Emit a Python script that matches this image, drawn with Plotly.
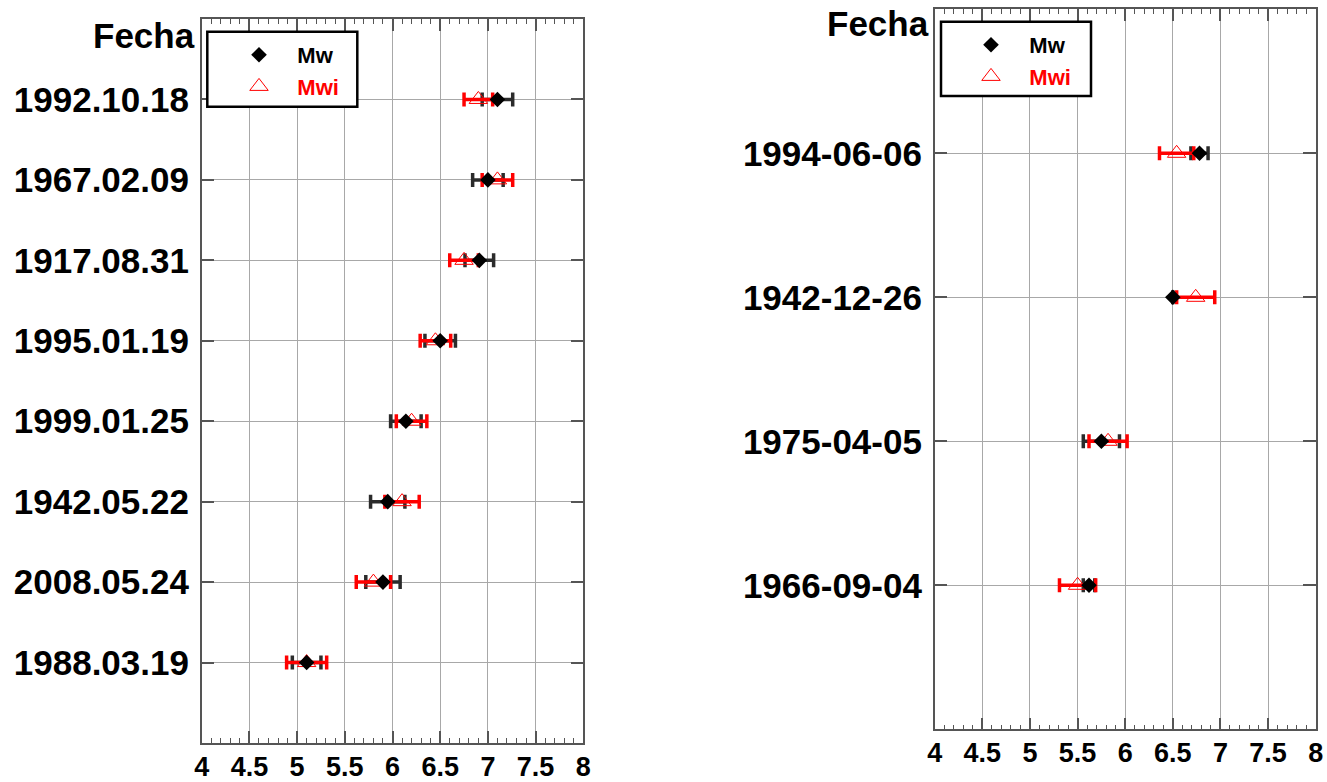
import plotly.graph_objects as go

# ---------------- data ----------------
dates_left = ["1992.10.18", "1967.02.09", "1917.08.31", "1995.01.19",
              "1999.01.25", "1942.05.22", "2008.05.24", "1988.03.19"]
mw_left = [7.10, 7.00, 6.91, 6.50, 6.14, 5.95, 5.90, 5.10]
mw_err_left = [0.16, 0.16, 0.15, 0.16, 0.16, 0.18, 0.18, 0.15]
mwi_left = [6.90, 7.10, 6.75, 6.45, 6.20, 6.10, 5.80, 5.10]
mwi_err_left = [0.15, 0.16, 0.15, 0.16, 0.16, 0.18, 0.18, 0.21]

dates_right = ["1994-06-06", "1942-12-26", "1975-04-05", "1966-09-04"]
mw_right = [6.78, 6.50, 5.75, 5.62]
mw_err_right = [0.09, 0.0, 0.19, 0.06]
mwi_right = [6.54, 6.74, 5.82, 5.50]
mwi_err_right = [0.18, 0.20, 0.20, 0.19]

x_ticks = [4, 4.5, 5, 5.5, 6, 6.5, 7, 7.5, 8]
x_ticktext = ["4", "4.5", "5", "5.5", "6", "6.5", "7", "7.5", "8"]

# ---------------- style ----------------
W, H = 1327, 782
FONT = "Liberation Sans, Arial, sans-serif"
BLACK_ERR = "#2b2b2b"
RED = "#ff0000"
AXIS_COL = "#555555"
GRID_COL = "#a8a8a8"


def px_x(p):
    return p / W


def px_y(p):
    return 1 - p / H


fig = go.Figure()

panels = [
    dict(xa="x", ya="y", dates=dates_left, mw=mw_left, mwe=mw_err_left,
         mwi=mwi_left, mwie=mwi_err_left, legend="legend"),
    dict(xa="x2", ya="y2", dates=dates_right, mw=mw_right, mwe=mw_err_right,
         mwi=mwi_right, mwie=mwi_err_right, legend="legend2"),
]

for p in panels:
    # Mw error bars
    fig.add_trace(go.Scatter(
        x=p["mw"], y=p["dates"], xaxis=p["xa"], yaxis=p["ya"], mode="markers",
        marker=dict(size=1, color="rgba(0,0,0,0)"),
        error_x=dict(type="data", array=p["mwe"], color=BLACK_ERR,
                     thickness=3.5, width=7),
        showlegend=False, hoverinfo="skip"))
    # Mwi error bars
    fig.add_trace(go.Scatter(
        x=p["mwi"], y=p["dates"], xaxis=p["xa"], yaxis=p["ya"], mode="markers",
        marker=dict(size=1, color="rgba(0,0,0,0)"),
        error_x=dict(type="data", array=p["mwie"], color=RED,
                     thickness=3.5, width=7),
        showlegend=False, hoverinfo="skip"))

for p in panels:
    # Mwi triangles
    fig.add_trace(go.Scatter(
        x=p["mwi"], y=p["dates"], xaxis=p["xa"], yaxis=p["ya"], mode="markers",
        name="&nbsp;&nbsp;&nbsp;<b><span style='color:#ff0000'>Mwi</span></b>",
        marker=dict(symbol="triangle-up-open", size=16, color=RED,
                    line=dict(width=1, color=RED)),
        legend=p["legend"], legendrank=2))
    # Mw diamonds
    fig.add_trace(go.Scatter(
        x=p["mw"], y=p["dates"], xaxis=p["xa"], yaxis=p["ya"], mode="markers",
        name="&nbsp;&nbsp;&nbsp;<b>Mw</b>",
        marker=dict(symbol="diamond", size=12, color="black"),
        legend=p["legend"], legendrank=1))

xaxis_common = dict(
    range=[4, 8], tickvals=x_ticks, ticktext=x_ticktext,
    ticks="inside", ticklen=12, tickwidth=1.5, tickcolor=AXIS_COL,
    minor=dict(dtick=0.1, ticks="inside", ticklen=5, tickwidth=1,
               tickcolor=AXIS_COL, showgrid=False),
    showline=True, linecolor=AXIS_COL, linewidth=1.5, mirror="allticks",
    showgrid=True, gridcolor=GRID_COL, gridwidth=1, zeroline=False,
    tickfont=dict(family=FONT, size=27, color="black", weight="bold"),
    ticklabelstandoff=-1, automargin=False,
)
yaxis_common = dict(
    type="category",
    ticks="inside", ticklen=13, tickwidth=1.5, tickcolor=AXIS_COL,
    showline=True, linecolor=AXIS_COL, linewidth=1.5, mirror="allticks",
    showgrid=True, gridcolor=GRID_COL, gridwidth=1, zeroline=False,
    tickfont=dict(family=FONT, size=35, color="black", weight="bold"),
    ticklabelstandoff=4, automargin=False,
)

fig.update_layout(
    width=W, height=H, autosize=False,
    margin=dict(l=0, r=0, t=0, b=0, autoexpand=False),
    paper_bgcolor="white", plot_bgcolor="white",
    xaxis=dict(domain=[px_x(201.7), px_x(583.3)], anchor="y", **xaxis_common),
    yaxis=dict(domain=[px_y(743), px_y(19)], anchor="x",
               categoryorder="array", categoryarray=dates_left,
               range=[len(dates_left), -1], **yaxis_common),
    xaxis2=dict(domain=[px_x(934.7), px_x(1315.7)], anchor="y2", **xaxis_common),
    yaxis2=dict(domain=[px_y(729.3), px_y(9.3)], anchor="x2",
                categoryorder="array", categoryarray=dates_right,
                range=[len(dates_right), -1], **yaxis_common),
    legend=dict(x=px_x(239), y=px_y(34), xanchor="left", yanchor="top",
                bgcolor="rgba(0,0,0,0)", borderwidth=0,
                font=dict(family=FONT, size=22, color="black"),
                tracegroupgap=0, itemsizing="trace"),
    legend2=dict(x=px_x(971), y=px_y(24), xanchor="left", yanchor="top",
                 bgcolor="rgba(0,0,0,0)", borderwidth=0,
                 font=dict(family=FONT, size=22, color="black"),
                 tracegroupgap=0, itemsizing="trace"),
    shapes=[
        dict(type="rect", xref="paper", yref="paper",
             x0=px_x(207.3), x1=px_x(357.3), y0=px_y(106.7), y1=px_y(31.7),
             line=dict(color="black", width=2.5), fillcolor="white", layer="above"),
        dict(type="rect", xref="paper", yref="paper",
             x0=px_x(941), x1=px_x(1091), y0=px_y(96), y1=px_y(21.7),
             line=dict(color="black", width=2.5), fillcolor="white", layer="above"),
    ],
    annotations=[
        dict(text="<b>Fecha</b>", xref="paper", yref="paper",
             x=px_x(197), y=px_y(35), xanchor="right", yanchor="middle",
             showarrow=False, font=dict(family=FONT, size=35, color="black")),
        dict(text="<b>Fecha</b>", xref="paper", yref="paper",
             x=px_x(931), y=px_y(23), xanchor="right", yanchor="middle",
             showarrow=False, font=dict(family=FONT, size=35, color="black")),
    ],
)

fig.write_html("out.html")
